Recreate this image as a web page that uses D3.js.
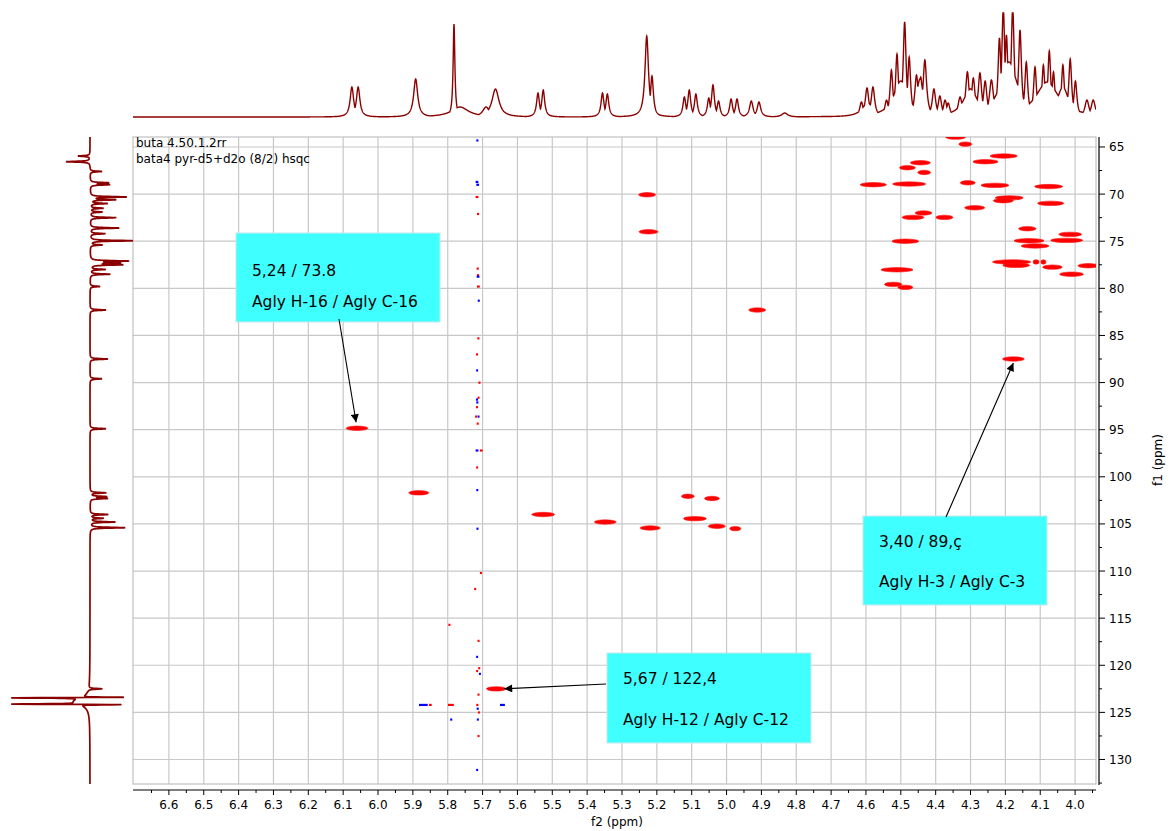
<!DOCTYPE html>
<html><head><meta charset="utf-8">
<script src="https://cdn.jsdelivr.net/npm/d3@7"></script>
<style>
body{margin:0;background:#fff;}
svg{display:block;font-family:"DejaVu Sans",Verdana,sans-serif;}
</style>
</head><body>
<svg id="c" width="1172" height="831"></svg>
<script>
// ---------------- DATA ----------------
const titleLines = ["buta 4.50.1.2rr", "bata4 pyr-d5+d2o (8/2) hsqc"];
const f2TickLabels = ["6.6","6.5","6.4","6.3","6.2","6.1","6.0","5.9","5.8","5.7","5.6","5.5","5.4","5.3","5.2","5.1","5.0","4.9","4.8","4.7","4.6","4.5","4.4","4.3","4.2","4.1","4.0"];
const f1TickLabels = [65,70,75,80,85,90,95,100,105,110,115,120,125,130];
const f2Title = "f2 (ppm)";
const f1Title = "f1 (ppm)";

// 1H projection (top): [ppm, height, half-width ppm]
const protonPeaks = [
 [6.075,30,.006],[6.057,30,.006],[5.892,38,.007],[5.807,2,.01],[5.782,93,.003],[5.765,10,.03],
 [5.69,10,.012],[5.663,28,.012],[5.541,24,.005],[5.526,27,.005],[5.356,24,.005],[5.342,23,.005],
 [5.229,81,.006],[5.214,41,.005],[5.121,20,.005],[5.107,27,.005],[5.088,23,.005],[5.051,19,.005],
 [5.039,32,.005],[5.023,16,.005],[4.987,18,.005],[4.970,18,.005],[4.929,16,.006],[4.907,15,.006],
 [4.833,4,.01],[4.613,15,.006],[4.597,29,.006],[4.580,30,.006],[4.541,17,.006],[4.527,47,.005],
 [4.511,63,.005],[4.489,95,.005],[4.476,60,.005],[4.455,42,.006],[4.443,40,.006],[4.431,57,.006],
 [4.405,28,.006],[4.388,21,.006],[4.373,17,.006],[4.364,14,.006],[4.330,20,.007],[4.309,45,.006],
 [4.292,39,.006],[4.273,44,.006],[4.258,36,.006],[4.240,37,.007],[4.217,79,.005],[4.206,110,.005],
 [4.197,82,.005],[4.179,110,.005],[4.158,87,.005],[4.140,55,.005],[4.115,50,.005],[4.091,52,.005],
 [4.074,66,.005],[4.062,45,.005],[4.035,52,.005],[4.014,58,.005],[3.999,36,.005],[3.966,17,.007],[3.948,17,.007],
 [4.595,14,.02],[4.50,36,.025],[4.445,38,.012],[4.30,28,.025],[4.19,55,.03],[4.08,35,.04],[4.035,30,.02]
];

// 13C projection (left): [ppm, intensity (negative = left), half-width ppm]
const carbonPeaks = [
 [65.96,-12,.05],[66.56,-24,.05],[67.6,12,.05],[68.8,18,.05],[69.0,19,.05],[70.3,36,.05],[70.6,25,.05],
 [71.0,17,.05],[71.5,13,.05],[71.9,12,.05],[72.5,26,.05],[73.6,29,.05],[74.2,15,.05],[74.95,43,.05],
 [75.4,12,.05],[77.1,37,.05],[77.3,27,.05],[77.5,31,.05],[78.0,15,.05],[78.5,20,.05],[79.8,10,.05],
 [82.3,16,.05],[87.5,18,.05],[89.6,12,.05],[94.9,16,.05],[101.7,16,.05],[102.1,16,.05],[102.3,17,.05],
 [104.0,18,.05],[104.4,13,.05],[104.8,25,.05],[105.4,35,.05],[122.5,14,.05],
 [123.40,60,.03],[123.46,-90,.03],[124.12,-90,.03],[124.18,60,.03],[123.85,-16,.45]
];

// HSQC cross peaks: [f2 ppm, f1 ppm, f2 width ppm]
const crossPeaks = [
 [4.343,63.95,.058],[4.315,64.7,.037],[4.205,65.96,.078],[4.257,66.56,.072],[4.444,66.67,.058],
 [4.481,67.2,.046],[4.433,67.7,.037],[4.579,69.0,.075],[4.476,68.93,.095],[4.308,68.8,.043],
 [4.230,69.07,.08],[4.076,69.2,.08],[4.189,70.4,.08],[4.206,70.7,.058],[4.070,70.98,.075],
 [4.288,71.45,.058],[4.435,72.0,.048],[4.465,72.47,.063],[4.375,72.47,.049],[4.137,73.67,.05],
 [4.014,74.27,.066],[4.487,75.0,.077],[4.132,74.95,.086],[4.024,74.91,.092],[4.115,75.5,.08],
 [4.511,78.03,.092],[4.522,79.58,.05],[4.487,79.9,.043],[4.182,77.2,.11],[4.169,77.56,.077],
 [4.112,77.2,.017],[4.091,77.2,.015],[4.065,77.75,.056],[4.010,78.5,.069],[3.962,77.6,.06],
 [4.177,87.5,.063],[5.228,70.07,.049],[5.224,74.0,.055],[4.912,82.3,.049],[5.526,104.0,.066],
 [5.348,104.8,.063],[5.111,102.07,.037],[5.042,102.3,.043],[5.091,104.44,.066],[5.219,105.43,.058],
 [5.028,105.25,.049],[4.975,105.5,.032],[5.883,101.7,.058],[6.060,94.85,.063],[5.661,122.5,.056]
];

// t1-noise points: [f2 ppm, f1 ppm, phase (+1 positive / -1 negative), f2 width ppm]
const noisePoints = [
 [5.715,64.3,-1,.006],[5.716,68.7,-1,.008],[5.714,69.0,-1,.008],[5.716,70.3,1,.008],[5.713,72.1,1,.006],
 [5.714,77.9,1,.006],[5.713,78.6,1,.006],[5.713,78.75,-1,.008],[5.712,79.8,1,.008],[5.711,81.3,-1,.006],
 [5.712,85.3,1,.006],[5.716,87.0,1,.006],[5.716,88.7,-1,.005],[5.709,90.0,1,.006],[5.712,91.6,1,.005],
 [5.716,91.8,-1,.006],[5.715,92.1,-1,.006],[5.716,92.6,1,.006],[5.712,93.6,-1,.005],[5.719,93.6,1,.005],
 [5.714,94.35,1,.006],[5.716,97.2,-1,.008],[5.704,97.2,1,.008],[5.716,99.0,1,.005],[5.716,101.4,-1,.004],
 [5.715,105.5,-1,.005],[5.705,110.2,1,.005],[5.722,111.9,1,.004],[5.796,115.7,1,.004],[5.712,117.4,1,.005],
 [5.716,119.1,-1,.005],[5.710,120.3,1,.005],[5.716,120.6,1,.005],[5.708,120.9,-1,.005],[5.712,123.1,1,.005],
 [5.791,124.2,1,.017],[5.715,124.2,1,.006],[5.714,124.6,-1,.006],[5.711,125.0,1,.005],[5.790,125.75,-1,.006],
 [5.714,125.75,-1,.005],[5.712,127.5,1,.005],[5.716,131.1,-1,.005],[5.643,124.2,-1,.014],[5.870,124.2,-1,.025],[5.850,124.2,1,.008]
];

// annotations: label lines and the cross peak they point to [f2, f1]
const annotationLines = [
 ["5,24 / 73.8", "Agly H-16 / Agly C-16"],
 ["3,40 / 89,ç", "Agly H-3 / Agly C-3"],
 ["5,67 / 122,4", "Agly H-12 / Agly C-12"]
];
const annotationTargets = [[6.060,94.85],[4.177,87.5],[5.661,122.5]];

// ---------------- LAYOUT ----------------
const svg = d3.select("#c");
const L = 133, R = 1096, T = 137, B = 784;
const x = d3.scaleLinear().domain([6.703, 3.94]).range([L, R]);
const y = d3.scaleLinear().domain([63.94, 132.6]).range([T, B]);
const spec = "#8b0000";

svg.append("defs").append("clipPath").attr("id","plotClip")
  .append("rect").attr("x",L).attr("y",T).attr("width",R-L).attr("height",B-T);
svg.select("defs").append("clipPath").attr("id","topClip")
  .append("rect").attr("x",L).attr("y",12).attr("width",R-L).attr("height",110);
svg.select("defs").append("marker").attr("id","arr").attr("viewBox","0 0 10 10")
  .attr("refX",10).attr("refY",5).attr("markerWidth",11).attr("markerHeight",8)
  .attr("markerUnits","userSpaceOnUse").attr("orient","auto")
  .append("path").attr("d","M0,0 L10,5 L0,10 z").attr("fill","#000");

// grid
const g = svg.append("g");
g.selectAll("line.vg").data(f2TickLabels.map(Number)).join("line")
  .attr("x1",d=>x(d)).attr("x2",d=>x(d)).attr("y1",T).attr("y2",B)
  .attr("stroke","#c8c8c8").attr("stroke-width",1.2);
g.selectAll("line.hg").data(f1TickLabels).join("line")
  .attr("x1",L).attr("x2",R).attr("y1",d=>y(d)).attr("y2",d=>y(d))
  .attr("stroke","#c8c8c8").attr("stroke-width",1.2);
g.append("rect").attr("x",L).attr("y",T).attr("width",R-L).attr("height",B-T)
  .attr("fill","none").attr("stroke","#c0c0c0").attr("stroke-width",1.2);

// title
svg.append("g").selectAll("text").data(titleLines).join("text")
  .attr("x",136).attr("y",(d,i)=>147+i*16).attr("font-size",12).attr("fill","#000").text(d=>d);

// cross peaks
const pk = svg.append("g").attr("clip-path","url(#plotClip)");
pk.selectAll("ellipse.cp").data(crossPeaks).join("ellipse")
  .attr("cx",d=>x(d[0])).attr("cy",d=>y(d[1]))
  .attr("rx",d=>Math.abs(x(d[0]+d[2]/2)-x(d[0]))).attr("ry",2.2)
  .attr("fill","#ff0000").attr("stroke","#ff1010").attr("stroke-width",0.6);
pk.selectAll("rect.np").data(noisePoints).join("rect")
  .attr("x",d=>x(d[0]+d[3]/2)).attr("y",d=>y(d[1])-1)
  .attr("width",d=>Math.max(2,Math.abs(x(d[0]-d[3]/2)-x(d[0]+d[3]/2)))).attr("height",2.2)
  .attr("fill",d=>d[2]>0?"#ff0000":"#0000ff");

// top 1D spectrum
const topY = d3.scaleLinear().domain([0,104]).range([117,13]).clamp(true);
const topPts = d3.range(6.703, 3.94, -0.0005).map(p => {
  let v = 0;
  for (const [c,h,w] of protonPeaks) { const t=(p-c)/w; v = Math.max(v, h/(1+t*t)); }
  return [p, v];
});
svg.append("path").datum(topPts).attr("clip-path","url(#topClip)")
  .attr("d", d3.line().x(d=>x(d[0])).y(d=>topY(d[1])))
  .attr("fill","none").attr("stroke",spec).attr("stroke-width",1.4);

// left 1D spectrum
const leftX = d3.scaleLinear().domain([-78,43]).range([12,133]).clamp(true);
const leftPts = d3.range(63.94, 132.6, 0.01).map(p => {
  let v = 0;
  for (const [c,h,w] of carbonPeaks) { const t=(p-c)/w; v += h/(1+t*t); }
  return [p, v];
});
svg.append("path").datum(leftPts)
  .attr("d", d3.line().x(d=>leftX(d[1])).y(d=>y(d[0])))
  .attr("fill","none").attr("stroke",spec).attr("stroke-width",1.7);

// bottom axis
const xAxisY = 790;
const ax = svg.append("g");
ax.append("line").attr("x1",L).attr("x2",R).attr("y1",xAxisY).attr("y2",xAxisY).attr("stroke","#000").attr("stroke-width",1.2);
const minorX = d3.range(6.65, 3.94, -0.1);
ax.selectAll("line.mx").data(minorX).join("line")
  .attr("x1",d=>x(d)).attr("x2",d=>x(d)).attr("y1",xAxisY).attr("y2",xAxisY+3).attr("stroke","#000");
ax.selectAll("line.Mx").data(f2TickLabels).join("line")
  .attr("x1",d=>x(+d)).attr("x2",d=>x(+d)).attr("y1",xAxisY).attr("y2",xAxisY+5).attr("stroke","#000");
ax.selectAll("text.tx").data(f2TickLabels).join("text")
  .attr("x",d=>x(+d)).attr("y",809).attr("text-anchor","middle").attr("font-size",12).text(d=>d);
ax.append("text").attr("x",617).attr("y",826).attr("text-anchor","middle").attr("font-size",12).text(f2Title);

// right axis
const yAxisX = 1099;
const ay = svg.append("g");
ay.append("line").attr("x1",yAxisX).attr("x2",yAxisX).attr("y1",T).attr("y2",B+1).attr("stroke","#000").attr("stroke-width",1.2);
const minorY = d3.range(67.5, 132.6, 5);
ay.selectAll("line.my").data(minorY).join("line")
  .attr("x1",yAxisX).attr("x2",yAxisX+3).attr("y1",d=>y(d)).attr("y2",d=>y(d)).attr("stroke","#000");
ay.selectAll("line.My").data(f1TickLabels).join("line")
  .attr("x1",yAxisX).attr("x2",yAxisX+6).attr("y1",d=>y(d)).attr("y2",d=>y(d)).attr("stroke","#000");
ay.selectAll("text.ty").data(f1TickLabels).join("text")
  .attr("x",yAxisX+10).attr("y",d=>y(d)+4.5).attr("font-size",12).text(d=>d);
ay.append("text").attr("transform","translate(1162,460) rotate(-90)").attr("text-anchor","middle")
  .attr("font-size",12).text(f1Title);

// annotations
const boxes = [
  {x:236,y:233,w:204,h:89, ax:339, ay:319, dx:-1, dy:-6, t1:270, t2:301},
  {x:863,y:516,w:184,h:89, ax:946, ay:517, dx:0, dy:4, t1:541, t2:581},
  {x:607,y:653,w:204,h:90, ax:606, ay:684, dx:8, dy:0, t1:678, t2:719}
];
const an = svg.append("g");
boxes.forEach((b,i) => {
  an.append("rect").attr("x",b.x).attr("y",b.y).attr("width",b.w).attr("height",b.h)
    .attr("fill","#40ffff").attr("stroke","#c8e8e8").attr("stroke-width",1);
  an.append("text").attr("x",b.x+16).attr("y",b.t1+5.5).attr("font-size",15.5).text(annotationLines[i][0]);
  an.append("text").attr("x",b.x+16).attr("y",b.t2+5.5).attr("font-size",15.5).text(annotationLines[i][1]);
  const tx = x(annotationTargets[i][0]) + b.dx, ty = y(annotationTargets[i][1]) + b.dy;
  an.append("line").attr("x1",b.ax).attr("y1",b.ay).attr("x2",tx).attr("y2",ty)
    .attr("stroke","#000").attr("stroke-width",1.1).attr("marker-end","url(#arr)");
});
</script>
</body></html>
